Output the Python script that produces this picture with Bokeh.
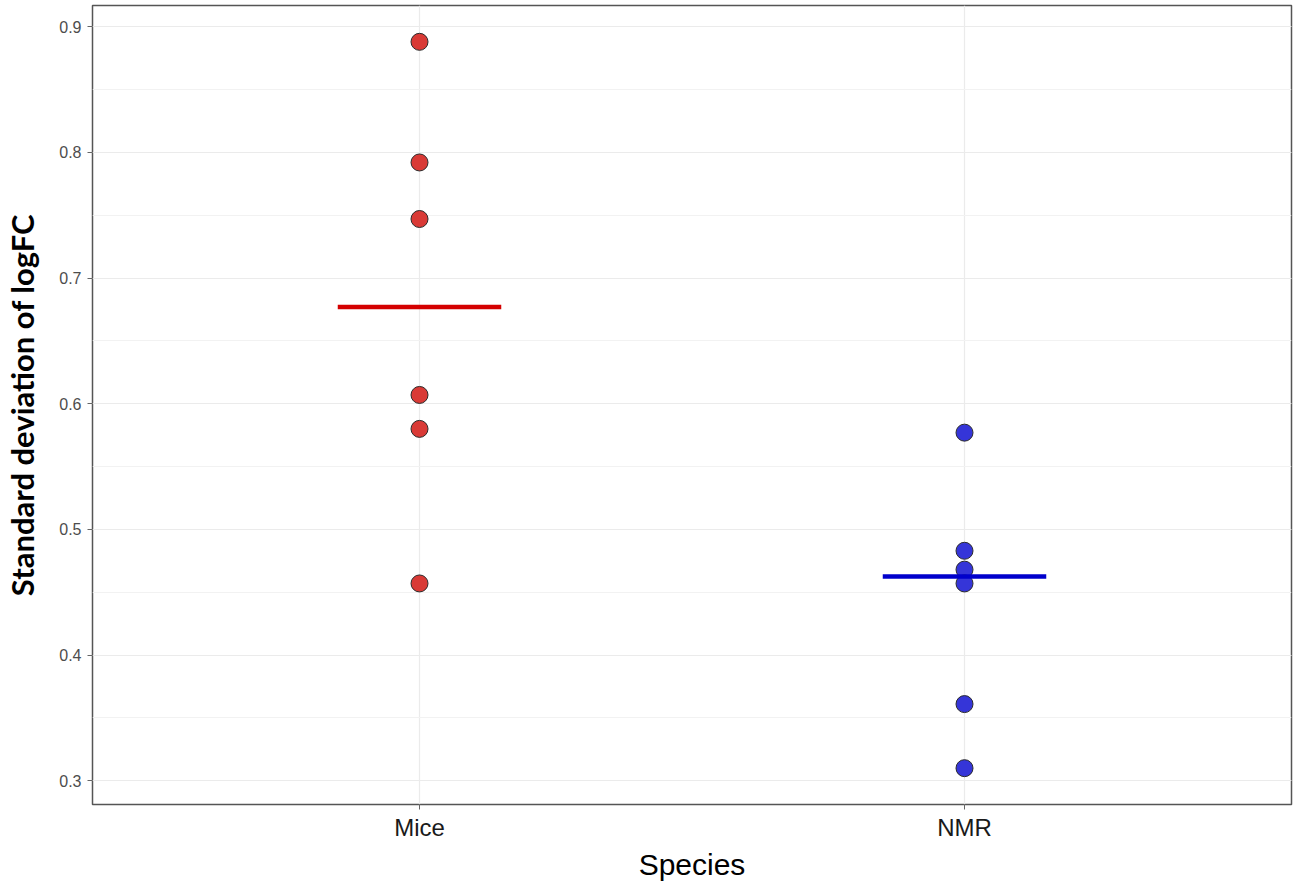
import numpy as np
from bokeh.plotting import figure
from bokeh.models import (ColumnDataSource, FactorRange, Range1d, SingleIntervalTicker,
                          NumeralTickFormatter)
from bokeh.transform import dodge
from bokeh.embed import file_html
from bokeh.resources import INLINE

# Standard deviation of logFC per sample, by species
species = ["Mice", "NMR"]
mice_sd = [0.888, 0.792, 0.747, 0.607, 0.580, 0.457]
nmr_sd = [0.577, 0.483, 0.468, 0.457, 0.361, 0.310]
point_fill = {"Mice": "#d93a36", "NMR": "#3535d8"}
median_color = {"Mice": "#d40000", "NMR": "#0000cc"}
y_ticks = [0.3, 0.4, 0.5, 0.6, 0.7, 0.8, 0.9]

all_vals = np.array(mice_sd + nmr_sd)
lo, hi = all_vals.min(), all_vals.max()
pad = 0.05 * (hi - lo)

p = figure(
    width=1296, height=884,
    x_range=FactorRange(factors=species, range_padding=0.1, range_padding_units="absolute"),
    y_range=Range1d(lo - pad, hi + pad),
    output_backend="svg", toolbar_location=None,
    min_border_left=92, min_border_right=5, min_border_top=5, min_border_bottom=80,
    background_fill_color="white", border_fill_color="white",
)

# points
pts = ColumnDataSource(dict(
    species=["Mice"] * len(mice_sd) + ["NMR"] * len(nmr_sd),
    sd=mice_sd + nmr_sd,
    fill=[point_fill["Mice"]] * len(mice_sd) + [point_fill["NMR"]] * len(nmr_sd),
))

# median bars
med = ColumnDataSource(dict(
    species=species,
    median=[float(np.median(mice_sd)), float(np.median(nmr_sd))],
    color=[median_color[s] for s in species],
))
p.segment(x0=dodge("species", -0.15, range=p.x_range), x1=dodge("species", 0.15, range=p.x_range),
          y0="median", y1="median", line_color="color", line_width=4.5, source=med, level="overlay")

p.scatter(x="species", y="sd", size=17, fill_color="fill", line_color="#2b2b2b",
          line_width=1, source=pts)

# axes / frame
p.outline_line_color = "#555555"
p.outline_line_width = 1.5
for ax in (p.xaxis[0], p.yaxis[0]):
    ax.axis_line_color = None
    ax.major_tick_line_color = "#666666"
    ax.major_tick_out = 5
    ax.major_tick_in = 0
    ax.minor_tick_line_color = None

p.yaxis.ticker = SingleIntervalTicker(interval=0.1, num_minor_ticks=2)
p.yaxis.formatter = NumeralTickFormatter(format="0.0")
p.yaxis.major_label_text_font = "Liberation Sans"
p.yaxis.major_label_text_font_size = "16px"
p.yaxis.major_label_text_color = "#4d4d4d"
p.yaxis.major_label_standoff = 6
p.yaxis.axis_label = "Standard deviation of logFC"
p.yaxis.axis_label_text_font = "Lato"
p.yaxis.axis_label_text_font_style = "bold"
p.yaxis.axis_label_text_font_size = "31px"
p.yaxis.axis_label_text_color = "black"
p.yaxis.axis_label_standoff = 15

p.xaxis.major_label_text_font = "Liberation Sans"
p.xaxis.major_label_text_font_size = "24px"
p.xaxis.major_label_text_color = "#1a1a1a"
p.xaxis.major_label_standoff = 4
p.xaxis.axis_label = "Species"
p.xaxis.axis_label_text_font = "Liberation Sans"
p.xaxis.axis_label_text_font_style = "normal"
p.xaxis.axis_label_text_font_size = "30px"
p.xaxis.axis_label_text_color = "black"
p.xaxis.axis_label_standoff = 4

# grid
p.xgrid.grid_line_color = "#ebebeb"
p.xgrid.grid_line_width = 1.2
p.ygrid.grid_line_color = "#ebebeb"
p.ygrid.grid_line_width = 1.2
p.ygrid.minor_grid_line_color = "#f2f2f2"
p.ygrid.minor_grid_line_width = 1

open("out.html", "w").write(file_html(p, INLINE))
